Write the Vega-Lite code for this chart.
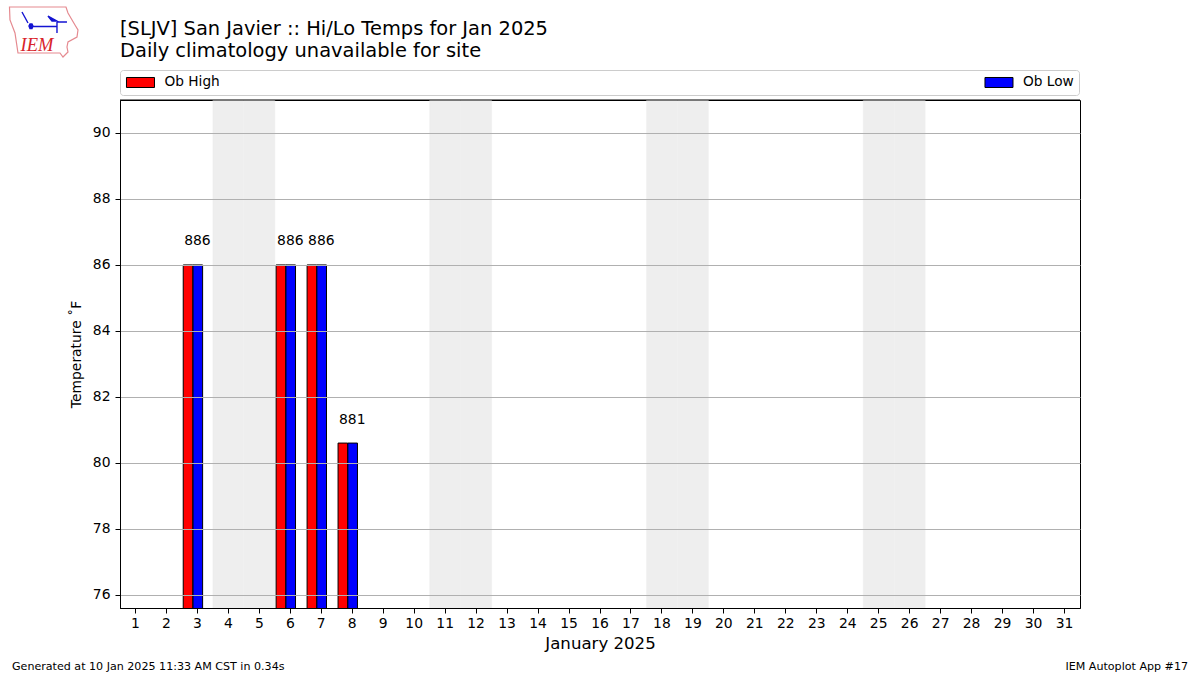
{"$schema":"https://vega.github.io/schema/vega-lite/v6.json","width":960,"height":508,"autosize":{"type":"none"},"padding":{"left":120,"right":120,"top":100,"bottom":67},"background":"white","config":{"font":"DejaVu Sans","view":{"stroke":"black","strokeWidth":1}},"title":{"text":["[SLJV] San Javier :: Hi/Lo Temps for Jan 2025","Daily climatology unavailable for site"],"anchor":"start","frame":"group","align":"left","font":"DejaVu Sans","fontSize":19.45,"fontWeight":"normal","lineHeight":22,"color":"black","offset":0,"dy":57},"datasets":{"obs":[{"day":3,"series":"Ob High","temp":86,"label":"886"},{"day":3,"series":"Ob Low","temp":86},{"day":6,"series":"Ob High","temp":86,"label":"886"},{"day":6,"series":"Ob Low","temp":86},{"day":7,"series":"Ob High","temp":86,"label":"886"},{"day":7,"series":"Ob Low","temp":86},{"day":8,"series":"Ob High","temp":80.6,"label":"881"},{"day":8,"series":"Ob Low","temp":80.6}]},"encoding":{"x":{"field":"day","type":"ordinal","scale":{"type":"band","domain":[1,2,3,4,5,6,7,8,9,10,11,12,13,14,15,16,17,18,19,20,21,22,23,24,25,26,27,28,29,30,31],"paddingInner":0,"paddingOuter":0},"axis":{"title":"January 2025","titleFontSize":16.6,"titleFontWeight":"normal","titleColor":"black","titlePadding":6,"labelAngle":0,"labelFontSize":13.9,"labelColor":"black","labelPadding":3,"tickColor":"black","tickSize":5,"domainColor":"black","grid":false}}},"layer":[{"data":{"values":[{"day":4},{"day":5},{"day":11},{"day":12},{"day":18},{"day":19},{"day":25},{"day":26}]},"mark":{"type":"rect","fill":"#eeeeee","stroke":"#eeeeee","strokeWidth":0.5}},{"data":{"name":"obs"},"transform":[{"filter":"datum.series === 'Ob High'"}],"mark":{"type":"bar","width":9.6,"xOffset":-9.4,"stroke":"black","strokeWidth":1,"clip":true},"encoding":{"y":{"field":"temp","type":"quantitative","scale":{"domain":[75.6,91],"nice":false,"zero":false},"axis":{"title":"Temperature ˚F","titleFontSize":13.9,"titleFontWeight":"normal","titleColor":"black","titlePadding":9,"values":[76,78,80,82,84,86,88,90],"labelFontSize":13.9,"labelColor":"black","labelPadding":5,"tickColor":"black","tickSize":5,"domainColor":"black","grid":true,"gridColor":"#b0b0b0","gridWidth":1,"gridOpacity":1,"zindex":1}},"color":{"field":"series","type":"nominal","scale":{"domain":["Ob High","Ob Low"],"range":["#ff0000","#0000ff"]},"legend":{"orient":"none","legendX":0,"legendY":-30,"title":null,"direction":"horizontal","columns":2,"columnPadding":762.5,"padding":5,"strokeColor":"#cccccc","fillColor":"white","cornerRadius":3,"labelFontSize":13.7,"labelColor":"black","labelOffset":25.5,"symbolType":"M-0.85,-0.77H3.46V0.77H-0.85Z","symbolSize":169,"symbolStrokeColor":"black","symbolStrokeWidth":1,"symbolOpacity":1}}}},{"data":{"name":"obs"},"transform":[{"filter":"datum.series === 'Ob Low'"}],"mark":{"type":"bar","width":9.6,"xOffset":0.4,"stroke":"black","strokeWidth":1,"clip":true},"encoding":{"y":{"field":"temp","type":"quantitative"},"color":{"field":"series","type":"nominal"}}},{"data":{"name":"obs"},"transform":[{"filter":"datum.series === 'Ob High'"}],"mark":{"type":"text","dy":-23.5,"fontSize":13.9,"color":"black"},"encoding":{"y":{"field":"temp","type":"quantitative"},"text":{"field":"label","type":"nominal"}}},{"data":{"values":[{"day":1,"label":"Generated at 10 Jan 2025 11:33 AM CST in 0.34s"}]},"mark":{"type":"text","align":"left","dx":-123.5,"dy":59,"fontSize":11.1,"color":"black"},"encoding":{"y":{"datum":75.6,"type":"quantitative"},"text":{"field":"label","type":"nominal"}}},{"data":{"values":[{"day":31,"label":"IEM Autoplot App #17"}]},"mark":{"type":"text","align":"right","dx":123.5,"dy":59,"fontSize":11.1,"color":"black"},"encoding":{"y":{"datum":75.6,"type":"quantitative"},"text":{"field":"label","type":"nominal"}}},{"data":{"values":[{"day":1,"label":"IEM"}]},"mark":{"type":"text","align":"center","dx":-98.5,"dy":-55,"font":"Liberation Serif","fontStyle":"italic","fontSize":18.5,"color":"#d8232a"},"encoding":{"y":{"datum":91,"type":"quantitative"},"text":{"field":"label","type":"nominal"}}},{"data":{"values":[{"day":1}]},"mark":{"type":"point","filled":false,"size":4,"stroke":"#e58a90","strokeWidth":1.2,"opacity":1,"xOffset":-91.5,"yOffset":-68,"shape":"M-34.5,-25L22,-25L24,-19L31,-7L34,-2L33,5L24,10L23,15L24,20L19,25L16,21L-26,21L-29,1L-34,-12Z"},"encoding":{"y":{"datum":91,"type":"quantitative"}}},{"data":{"values":[{"day":1}]},"mark":{"type":"point","filled":true,"size":4,"fill":"#1414d2","stroke":"#1414d2","strokeWidth":1.4,"opacity":1,"xOffset":-91.5,"yOffset":-68,"shape":"M-13,-5.5H13M13,-10H23M13,-10V1M-22,-20L-16,-9M4,-16L13,-11L8,-11ZM-14,-8L-12,-8L-11,-6L-12,-3.5L-14,-3.5L-15,-6Z"},"encoding":{"y":{"datum":91,"type":"quantitative"}}},{"data":{"values":[{"edge":91}]},"mark":{"type":"rule","color":"black","strokeWidth":1},"encoding":{"x":null,"y":{"field":"edge","type":"quantitative"}}}]}
